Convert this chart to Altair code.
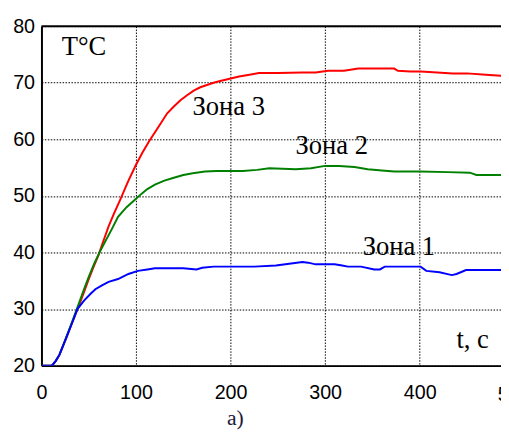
import altair as alt
import pandas as pd

# Зона 3 (red)
t3 = [0, 11, 15, 19, 26, 33, 40, 45, 50, 55, 60, 65, 71, 77, 83, 92, 100, 107, 114, 123, 133, 140, 147, 154, 161, 168, 175, 182, 189, 199, 209, 220, 230, 250, 276, 290, 303, 320, 335, 355, 373, 377, 390, 401, 410, 435, 450, 470, 486, 500]
y3 = [20, 20, 20.8, 21.9, 24.8, 27.8, 30.8, 33.0, 35.3, 37.4, 39.4, 41.8, 44.6, 47.0, 49.2, 52.7, 55.5, 57.7, 59.7, 62.0, 64.6, 65.8, 66.9, 67.8, 68.6, 69.2, 69.6, 70.0, 70.3, 70.7, 71.1, 71.4, 71.7, 71.7, 71.8, 71.8, 72.1, 72.1, 72.5, 72.5, 72.5, 72.1, 72.0, 72.0, 71.9, 71.65, 71.65, 71.4, 71.25, 71.25]

# Зона 2 (green)
t2 = [0, 11, 15, 19, 26, 33, 40, 45, 50, 56, 62, 67, 74, 81, 90, 100, 106, 112, 120, 130, 140, 150, 160, 173, 185, 200, 213, 228, 241, 255, 269, 285, 300, 315, 331, 345, 360, 373, 400, 430, 453, 460, 486, 500]
y2 = [20, 20, 20.8, 21.9, 24.9, 28.0, 31.2, 33.5, 35.7, 38.1, 40.2, 41.8, 44.0, 46.3, 48.0, 49.5, 50.4, 51.2, 52.0, 52.7, 53.2, 53.7, 54.0, 54.3, 54.4, 54.4, 54.4, 54.6, 54.9, 54.8, 54.7, 54.9, 55.3, 55.3, 55.1, 54.7, 54.5, 54.3, 54.3, 54.2, 54.1, 53.7, 53.7, 53.7]

# Зона 1 (blue)
t1 = [0, 11, 15, 19, 26, 33, 38, 45, 52, 57, 64, 71, 81, 92, 102, 112, 120, 130, 150, 164, 170, 182, 200, 225, 248, 262, 276, 282, 290, 310, 318, 324, 338, 352, 358, 363, 380, 401, 407, 421, 434, 439, 449, 470, 486, 500]
y1 = [20, 20, 20.8, 21.9, 24.8, 27.8, 30.0, 31.5, 32.7, 33.5, 34.2, 34.8, 35.3, 36.2, 36.75, 37.0, 37.2, 37.2, 37.2, 37.0, 37.3, 37.5, 37.5, 37.5, 37.7, 38.0, 38.3, 38.2, 37.9, 37.9, 37.7, 37.5, 37.5, 37.0, 37.0, 37.5, 37.5, 37.5, 36.75, 36.5, 36.0, 36.2, 36.9, 36.9, 36.9, 36.9]

series_names = ["Зона 3", "Зона 2", "Зона 1"]
series_colors = ["#ff0000", "#008000", "#0000ff"]

x_ticks = [0, 100, 200, 300, 400]
y_ticks = [20, 30, 40, 50, 60, 70, 80]

# annotation texts
ann_text = ["T°C", "Зона 3", "Зона 2", "Зона 1", "t, c"]
ann_x = [45, 198, 307, 378, 456]
ann_y = [76.3, 65.7, 58.8, 41.0, 24.5]

rows = []
for name, ts, ys in zip(series_names, [t3, t2, t1], [y3, y2, y1]):
    for t, v in zip(ts, ys):
        rows.append({"zone": name, "t": t, "T": v})
df = pd.DataFrame(rows)
ann = pd.DataFrame({"label": ann_text, "x": ann_x, "y": ann_y})

xscale = alt.Scale(domain=[0, 486], nice=False, zero=False)
yscale = alt.Scale(domain=[20, 80], nice=False, zero=False)

lines = alt.Chart(df).mark_line(strokeWidth=2, clip=True).encode(
    x=alt.X("t:Q", scale=xscale, axis=alt.Axis(
        values=x_ticks, title=None, grid=True, gridColor="black", gridDash=[1.5, 1.5],
        gridOpacity=1, gridWidth=1, domainColor="black", domainWidth=2, ticks=False,
        labelFont="Liberation Sans", labelFontSize=20, labelColor="black",
        labelPadding=17, labelFlush=False)),
    y=alt.Y("T:Q", scale=yscale, axis=alt.Axis(
        values=y_ticks, title=None, grid=True, gridColor="black", gridDash=[1.5, 1.5],
        gridOpacity=1, gridWidth=1, domainColor="black", domainWidth=2, ticks=False,
        labelFont="Liberation Sans", labelFontSize=20, labelColor="black",
        labelPadding=7)),
    color=alt.Color("zone:N", scale=alt.Scale(domain=series_names, range=series_colors), legend=None),
    detail="zone:N",
)

top_border = alt.Chart(pd.DataFrame({"y": [80]})).mark_rule(color="black", strokeWidth=2).encode(
    y=alt.Y("y:Q", scale=yscale)
)

texts = alt.Chart(ann).mark_text(font="Liberation Serif", fontSize=27, color="black").encode(
    x=alt.X("x:Q", scale=xscale), y=alt.Y("y:Q", scale=yscale), text="label:N"
)

extra_x = alt.Chart(pd.DataFrame({"x": [500], "y": [20], "label": ["500"]})).mark_text(
    font="Liberation Sans", fontSize=20, color="black", baseline="top", dy=20
).encode(x=alt.X("x:Q", scale=xscale), y=alt.Y("y:Q", scale=yscale), text="label:N")

caption = alt.Chart(pd.DataFrame({"x": [205], "y": [10.8], "label": ["а)"]})).mark_text(
    font="Liberation Serif", fontSize=22, color="#1a1a3a"
).encode(x=alt.X("x:Q", scale=xscale), y=alt.Y("y:Q", scale=yscale), text="label:N")

chart = alt.layer(lines, top_border, texts, extra_x, caption).properties(
    width=467, height=345,
    autosize=alt.AutoSizeParams(type="none"),
    padding={"left": 34, "top": 15, "right": 0, "bottom": 64},
).configure_view(strokeWidth=0).configure(background="white")

chart.save("out.html", embed_options={"renderer": "svg", "actions": False})
